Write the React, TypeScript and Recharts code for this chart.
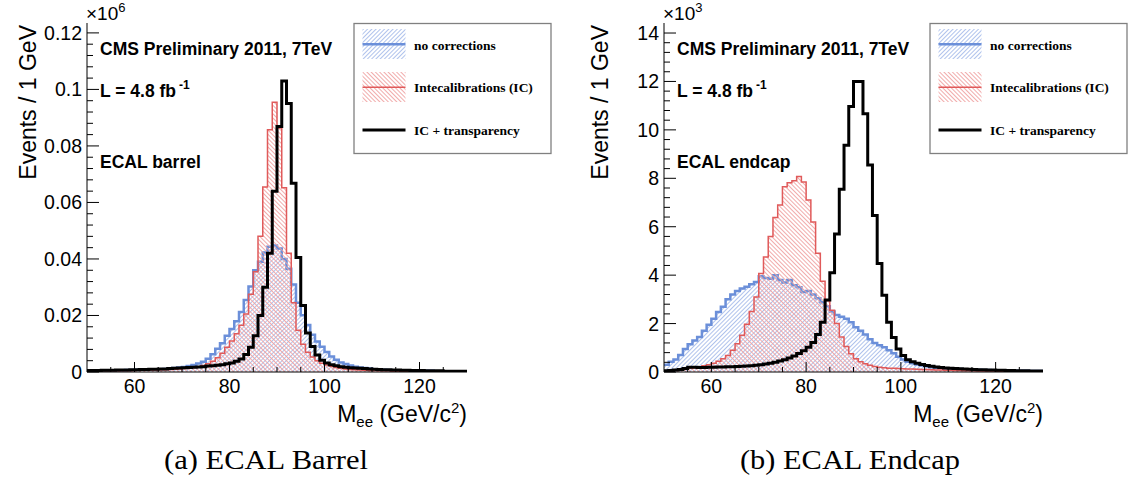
import React from 'react';
import { ComposedChart, Area, Line, XAxis, YAxis } from 'recharts';

// Lower edges of the 1 GeV mass bins (GeV/c^2); the last bin closes at 130
const BIN_LOW = [
  50, 51, 52, 53, 54, 55, 56, 57, 58, 59,
  60, 61, 62, 63, 64, 65, 66, 67, 68, 69,
  70, 71, 72, 73, 74, 75, 76, 77, 78, 79,
  80, 81, 82, 83, 84, 85, 86, 87, 88, 89,
  90, 91, 92, 93, 94, 95, 96, 97, 98, 99,
  100, 101, 102, 103, 104, 105, 106, 107, 108, 109,
  110, 111, 112, 113, 114, 115, 116, 117, 118, 119,
  120, 121, 122, 123, 124, 125, 126, 127, 128, 129,
];
const BIN_HIGH = 130;

// ECAL barrel, events / 1 GeV in units of 10^6
const barrelNoCorr = [
  0.0004, 0.0004, 0.0005, 0.0005, 0.0005, 0.0006, 0.0006, 0.0006, 0.0007, 0.0007,
  0.0008, 0.0008, 0.0009, 0.0009, 0.0010, 0.0010, 0.0011, 0.0012, 0.0014, 0.0016,
  0.0018, 0.0021, 0.0025, 0.0030, 0.0036, 0.0047, 0.0063, 0.0082, 0.0102, 0.0128,
  0.0152, 0.0180, 0.0212, 0.0255, 0.0303, 0.0360, 0.0390, 0.0423, 0.0443, 0.0448,
  0.0437, 0.0400, 0.0365, 0.0310, 0.0245, 0.0201, 0.0166, 0.0132, 0.0108, 0.0089,
  0.0071, 0.0055, 0.0043, 0.0034, 0.0028, 0.0023, 0.0019, 0.0016, 0.0014, 0.0012,
  0.0010, 0.0009, 0.0008, 0.0007, 0.0006, 0.0006, 0.0005, 0.0005, 0.0005, 0.0004,
  0.0004, 0.0004, 0.0004, 0.0003, 0.0003, 0.0003, 0.0003, 0.0003, 0.0003, 0.0002,
];
const barrelIC = [
  0.0003, 0.0003, 0.0003, 0.0004, 0.0004, 0.0004, 0.0004, 0.0005, 0.0005, 0.0005,
  0.0006, 0.0006, 0.0006, 0.0007, 0.0007, 0.0008, 0.0008, 0.0009, 0.0010, 0.0011,
  0.0012, 0.0014, 0.0016, 0.0019, 0.0023, 0.0029, 0.0038, 0.0050, 0.0066, 0.0088,
  0.0110, 0.0135, 0.0165, 0.0205, 0.0275, 0.0355, 0.0480, 0.0655, 0.0857, 0.0955,
  0.0863, 0.0652, 0.0420, 0.0245, 0.0148, 0.0098, 0.0070, 0.0053, 0.0040, 0.0031,
  0.0025, 0.0020, 0.0016, 0.0013, 0.0011, 0.0009, 0.0008, 0.0007, 0.0006, 0.0005,
  0.0005, 0.0004, 0.0004, 0.0004, 0.0003, 0.0003, 0.0003, 0.0003, 0.0003, 0.0002,
  0.0002, 0.0002, 0.0002, 0.0002, 0.0002, 0.0002, 0.0002, 0.0002, 0.0002, 0.0002,
];
const barrelICTransp = [
  0.0005, 0.0005, 0.0005, 0.0006, 0.0006, 0.0006, 0.0007, 0.0007, 0.0007, 0.0008,
  0.0008, 0.0009, 0.0009, 0.0010, 0.0010, 0.0011, 0.0011, 0.0012, 0.0013, 0.0014,
  0.0015, 0.0016, 0.0017, 0.0018, 0.0019, 0.0021, 0.0022, 0.0024, 0.0026, 0.0029,
  0.0032, 0.0038, 0.0046, 0.0062, 0.0088, 0.0128, 0.0200, 0.0300, 0.0420, 0.0640,
  0.0869, 0.1030, 0.0950, 0.0668, 0.0405, 0.0235, 0.0138, 0.0090, 0.0060, 0.0042,
  0.0032, 0.0026, 0.0022, 0.0019, 0.0017, 0.0015, 0.0014, 0.0013, 0.0012, 0.0011,
  0.0010, 0.0009, 0.0008, 0.0008, 0.0007, 0.0007, 0.0006, 0.0006, 0.0005, 0.0005,
  0.0005, 0.0004, 0.0004, 0.0004, 0.0004, 0.0003, 0.0003, 0.0003, 0.0003, 0.0003,
];

// ECAL endcap, events / 1 GeV in units of 10^3
const endcapNoCorr = [
  0.30, 0.42, 0.52, 0.70, 0.95, 1.15, 1.30, 1.45, 1.70, 1.95,
  2.20, 2.48, 2.70, 3.00, 3.20, 3.35, 3.45, 3.52, 3.62, 3.72,
  3.95, 3.88, 3.85, 4.00, 3.80, 3.70, 3.80, 3.58, 3.50, 3.30,
  3.35, 3.20, 3.05, 2.88, 2.72, 2.50, 2.35, 2.28, 2.20, 2.05,
  1.85, 1.70, 1.55, 1.35, 1.20, 1.10, 1.02, 0.90, 0.77, 0.63,
  0.52, 0.42, 0.36, 0.31, 0.27, 0.24, 0.20, 0.18, 0.17, 0.15,
  0.14, 0.13, 0.12, 0.11, 0.10, 0.09, 0.09, 0.08, 0.08, 0.07,
  0.07, 0.06, 0.06, 0.06, 0.05, 0.05, 0.05, 0.04, 0.04, 0.04,
];
const endcapIC = [
  0.05, 0.06, 0.08, 0.10, 0.12, 0.15, 0.18, 0.22, 0.26, 0.30,
  0.36, 0.44, 0.55, 0.68, 0.90, 1.17, 1.52, 1.97, 2.50, 3.10,
  4.07, 4.75, 5.60, 6.38, 6.90, 7.65, 7.82, 7.90, 8.07, 7.85,
  7.10, 6.20, 4.90, 3.75, 2.95, 2.55, 2.00, 1.45, 1.05, 0.75,
  0.55, 0.42, 0.34, 0.28, 0.23, 0.20, 0.18, 0.16, 0.15, 0.14,
  0.13, 0.12, 0.12, 0.11, 0.10, 0.10, 0.09, 0.08, 0.08, 0.07,
  0.07, 0.06, 0.06, 0.05, 0.05, 0.05, 0.04, 0.04, 0.04, 0.04,
  0.03, 0.03, 0.03, 0.03, 0.03, 0.02, 0.02, 0.02, 0.02, 0.02,
];
const endcapICTransp = [
  0.05, 0.06, 0.08, 0.10, 0.14, 0.20, 0.20, 0.19, 0.19, 0.20,
  0.20, 0.21, 0.21, 0.22, 0.22, 0.23, 0.24, 0.25, 0.26, 0.28,
  0.30, 0.33, 0.36, 0.40, 0.45, 0.51, 0.58, 0.66, 0.76, 0.88,
  1.02, 1.22, 1.55, 2.05, 2.97, 4.10, 5.70, 7.55, 9.37, 10.97,
  12.00, 12.00, 10.67, 8.55, 6.46, 4.48, 3.17, 2.05, 1.42, 0.95,
  0.68, 0.51, 0.42, 0.36, 0.31, 0.27, 0.24, 0.21, 0.19, 0.17,
  0.16, 0.14, 0.13, 0.12, 0.11, 0.10, 0.09, 0.09, 0.08, 0.08,
  0.07, 0.07, 0.06, 0.06, 0.05, 0.05, 0.05, 0.04, 0.04, 0.04,
];

// Axis ticks
const X_TICKS = [55, 60, 65, 70, 75, 80, 85, 90, 95, 100, 105, 110, 115, 120, 125];
const X_MAJOR = [60, 80, 100, 120];
const BARREL_Y_TICKS = [
  0, 0.004, 0.008, 0.012, 0.016, 0.02, 0.024, 0.028, 0.032, 0.036, 0.04,
  0.044, 0.048, 0.052, 0.056, 0.06, 0.064, 0.068, 0.072, 0.076, 0.08,
  0.084, 0.088, 0.092, 0.096, 0.1, 0.104, 0.108, 0.112, 0.116, 0.12,
];
const BARREL_Y_MAJOR = [0, 0.02, 0.04, 0.06, 0.08, 0.1, 0.12];
const ENDCAP_Y_TICKS = [
  0, 0.4, 0.8, 1.2, 1.6, 2, 2.4, 2.8, 3.2, 3.6, 4, 4.4, 4.8, 5.2, 5.6, 6,
  6.4, 6.8, 7.2, 7.6, 8, 8.4, 8.8, 9.2, 9.6, 10, 10.4, 10.8, 11.2, 11.6, 12,
  12.4, 12.8, 13.2, 13.6, 14,
];
const ENDCAP_Y_MAJOR = [0, 2, 4, 6, 8, 10, 12, 14];

const BLUE = '#6b8fd9';
const BLUE_HATCH = '#a6bbea';
const RED = '#e05a5a';
const RED_HATCH = '#efa2a2';
const SANS = "'Liberation Sans', Arial, Helvetica, sans-serif";
const SERIF = "'Liberation Serif', 'Times New Roman', serif";

type Row = { m: number; nc: number; ic: number; tr: number };

function makeRows(nc: number[], ic: number[], tr: number[]): Row[] {
  const rows: Row[] = BIN_LOW.map((m, i) => ({ m, nc: nc[i], ic: ic[i], tr: tr[i] }));
  const k = BIN_LOW.length - 1;
  rows.push({ m: BIN_HIGH, nc: nc[k], ic: ic[k], tr: tr[k] });
  return rows;
}

const barrelRows = makeRows(barrelNoCorr, barrelIC, barrelICTransp);
const endcapRows = makeRows(endcapNoCorr, endcapIC, endcapICTransp);

const W = 567;
const H = 479;
const TOP = 23;
const BOTTOM = 372;
const AX = { stroke: '#000', strokeWidth: 1 };

function fmtBarrel(v: number) {
  return v === 0 ? '0' : String(v);
}
function fmtEndcap(v: number) {
  return String(v);
}

interface PanelProps {
  rows: Row[];
  left: number;
  plotLeft: number;
  plotRight: number;
  yMax: number;
  yTicks: number[];
  yMajor: number[];
  fmt: (v: number) => string;
  hatchBlue: string;
  hatchRed: string;
}

function Panel(p: PanelProps) {
  const isMajorY = (v: number) => p.yMajor.some((m) => Math.abs(m - v) < 1e-9);
  const xBottom = (t: any) => {
    const v = t.payload.value;
    const major = X_MAJOR.includes(v);
    return (
      <g>
        <line x1={t.x} x2={t.x} y1={t.y} y2={t.y - (major ? 10 : 5)} stroke="#000" strokeWidth={1} />
        {major && (
          <text x={t.x} y={t.y + 21} textAnchor="middle" fontFamily={SANS} fontSize={19.5} fill="#000">
            {v}
          </text>
        )}
      </g>
    );
  };
  const xTop = (t: any) => {
    const v = t.payload.value;
    const major = X_MAJOR.includes(v);
    return <line x1={t.x} x2={t.x} y1={t.y} y2={t.y + (major ? 10 : 5)} stroke="#000" strokeWidth={1} />;
  };
  const yLeft = (t: any) => {
    const v = t.payload.value;
    const major = isMajorY(v);
    return (
      <g>
        <line x1={t.x} x2={t.x + (major ? 12 : 6)} y1={t.y} y2={t.y} stroke="#000" strokeWidth={1} />
        {major && (
          <text x={t.x - 5} y={t.y + 7} textAnchor="end" fontFamily={SANS} fontSize={19.5} fill="#000">
            {p.fmt(v)}
          </text>
        )}
      </g>
    );
  };
  const yRight = (t: any) => {
    const v = t.payload.value;
    const major = isMajorY(v);
    return <line x1={t.x} x2={t.x - (major ? 12 : 6)} y1={t.y} y2={t.y} stroke="#000" strokeWidth={1} />;
  };
  return (
    <div style={{ position: 'absolute', left: p.left, top: 0, width: W, height: H }}>
      <ComposedChart
        width={W}
        height={H}
        data={p.rows}
        margin={{ top: TOP, right: W - p.plotRight, bottom: 0, left: 0 }}
      >
        <XAxis
          xAxisId="b"
          dataKey="m"
          type="number"
          orientation="bottom"
          domain={[50, 130]}
          allowDataOverflow
          ticks={X_TICKS}
          interval={0}
          height={H - BOTTOM}
          tickSize={0}
          tickMargin={0}
          tickLine={false}
          axisLine={AX}
          tick={xBottom}
        />
        <XAxis
          xAxisId="t"
          type="number"
          orientation="top"
          domain={[50, 130]}
          allowDataOverflow
          ticks={X_TICKS}
          interval={0}
          height={0}
          tickSize={0}
          tickMargin={0}
          tickLine={false}
          axisLine={AX}
          tick={xTop}
        />
        <YAxis
          yAxisId="l"
          type="number"
          orientation="left"
          domain={[0, p.yMax]}
          allowDataOverflow
          ticks={p.yTicks}
          interval={0}
          width={p.plotLeft}
          tickSize={0}
          tickMargin={0}
          tickLine={false}
          axisLine={AX}
          tick={yLeft}
        />
        <YAxis
          yAxisId="r"
          type="number"
          orientation="right"
          domain={[0, p.yMax]}
          allowDataOverflow
          ticks={p.yTicks}
          interval={0}
          width={0}
          tickSize={0}
          tickMargin={0}
          tickLine={false}
          axisLine={AX}
          tick={yRight}
        />
        <Area
          xAxisId="b"
          yAxisId="l"
          type="stepAfter"
          dataKey="nc"
          stroke={BLUE}
          strokeWidth={2.5}
          fill={`url(#${p.hatchBlue})`}
          fillOpacity={1}
          dot={false}
          activeDot={false}
          isAnimationActive={false}
        />
        <Area
          xAxisId="b"
          yAxisId="l"
          type="stepAfter"
          dataKey="ic"
          stroke={RED}
          strokeWidth={1.5}
          fill={`url(#${p.hatchRed})`}
          fillOpacity={1}
          dot={false}
          activeDot={false}
          isAnimationActive={false}
        />
        <Line
          xAxisId="b"
          yAxisId="l"
          type="stepAfter"
          dataKey="tr"
          stroke="#000"
          strokeWidth={3}
          dot={false}
          activeDot={false}
          isAnimationActive={false}
        />
      </ComposedChart>
    </div>
  );
}

function Hatches() {
  return (
    <svg width={0} height={0} style={{ position: 'absolute', left: 0, top: 0 }}>
      <defs>
        <pattern id="hatchBlue" patternUnits="userSpaceOnUse" width={3} height={3} patternTransform="rotate(45)">
          <line x1={1.5} y1={0} x2={1.5} y2={3} stroke={BLUE_HATCH} strokeWidth={0.9} />
        </pattern>
        <pattern id="hatchRed" patternUnits="userSpaceOnUse" width={3} height={3} patternTransform="rotate(-45)">
          <line x1={1.5} y1={0} x2={1.5} y2={3} stroke={RED_HATCH} strokeWidth={0.9} />
        </pattern>
      </defs>
    </svg>
  );
}

function LegendBox({ x }: { x: number }) {
  const sx = x + 8.5;
  const sw = 43;
  const tx = x + 60;
  const fs = 13.5;
  return (
    <g>
      <rect x={x} y={23.5} width={197} height={130} fill="#fff" stroke="#808080" strokeWidth={1.3} />
      <rect x={sx} y={29} width={sw} height={30} fill="url(#hatchBlue)" />
      <line x1={sx} x2={sx + sw} y1={44.3} y2={44.3} stroke={BLUE} strokeWidth={2.5} />
      <text x={tx} y={49.5} fontFamily={SERIF} fontWeight="bold" fontSize={fs} fill="#000">no corrections</text>
      <rect x={sx} y={72} width={sw} height={30} fill="url(#hatchRed)" />
      <line x1={sx} x2={sx + sw} y1={87.3} y2={87.3} stroke={RED} strokeWidth={1.5} />
      <text x={tx} y={92} fontFamily={SERIF} fontWeight="bold" fontSize={fs} fill="#000">Intecalibrations (IC)</text>
      <line x1={sx} x2={sx + sw} y1={130} y2={130} stroke="#000" strokeWidth={3} />
      <text x={tx} y={134.5} fontFamily={SERIF} fontWeight="bold" fontSize={fs} fill="#000">IC + transparency</text>
    </g>
  );
}

function PanelText({ plotLeft, plotRight, titleX, exp, detector }: { plotLeft: number; plotRight: number; titleX: number; exp: string; detector: string }) {
  const tx = plotLeft + 13;
  return (
    <g fill="#000">
      <text x={plotLeft - 1} y={20} fontFamily={SANS} fontSize={19}>
        ×10<tspan dy={-8} fontSize={13}>{exp}</tspan>
      </text>
      <text x={tx} y={55} fontFamily={SANS} fontWeight="bold" fontSize={17.5}>CMS Preliminary 2011, 7TeV</text>
      <text x={tx} y={97} fontFamily={SANS} fontWeight="bold" fontSize={17.5}>
        L = 4.8 fb<tspan dx={3} dy={-8} fontSize={12}>-1</tspan>
      </text>
      <text x={tx} y={168} fontFamily={SANS} fontWeight="bold" fontSize={17.5}>{detector}</text>
      <text transform={`translate(${titleX},25) rotate(-90)`} textAnchor="end" fontFamily={SANS} fontSize={23}>
        Events / 1 GeV
      </text>
      <text x={plotRight} y={422} textAnchor="end" fontFamily={SANS} fontSize={23}>
        M<tspan dy={5} fontSize={15}>ee</tspan>
        <tspan dy={-5}> (GeV/c</tspan>
        <tspan dy={-9} fontSize={15}>2</tspan>
        <tspan dy={9}>)</tspan>
      </text>
    </g>
  );
}

export default function App() {
  return (
    <div style={{ position: 'absolute', left: 0, top: 0, width: 1134, height: 479, background: '#fff', overflow: 'hidden' }}>
      <Hatches />
      <Panel
        rows={barrelRows}
        left={0}
        plotLeft={87}
        plotRight={467}
        yMax={0.1235}
        yTicks={BARREL_Y_TICKS}
        yMajor={BARREL_Y_MAJOR}
        fmt={fmtBarrel}
        hatchBlue="hatchBlue"
        hatchRed="hatchRed"
      />
      <Panel
        rows={endcapRows}
        left={W}
        plotLeft={664 - W}
        plotRight={1043 - W}
        yMax={14.414}
        yTicks={ENDCAP_Y_TICKS}
        yMajor={ENDCAP_Y_MAJOR}
        fmt={fmtEndcap}
        hatchBlue="hatchBlue"
        hatchRed="hatchRed"
      />
      <svg width={1134} height={479} style={{ position: 'absolute', left: 0, top: 0, pointerEvents: 'none' }}>
        <PanelText plotLeft={87} plotRight={467} titleX={36} exp="6" detector="ECAL barrel" />
        <PanelText plotLeft={664} plotRight={1043} titleX={608} exp="3" detector="ECAL endcap" />
        <LegendBox x={354} />
        <LegendBox x={930} />
        <text x={266} y={469} textAnchor="middle" fontFamily={SERIF} fontSize={27} textLength={204} lengthAdjust="spacingAndGlyphs" fill="#000">
          (a) ECAL Barrel
        </text>
        <text x={850} y={469} textAnchor="middle" fontFamily={SERIF} fontSize={27} textLength={220} lengthAdjust="spacingAndGlyphs" fill="#000">
          (b) ECAL Endcap
        </text>
      </svg>
    </div>
  );
}
